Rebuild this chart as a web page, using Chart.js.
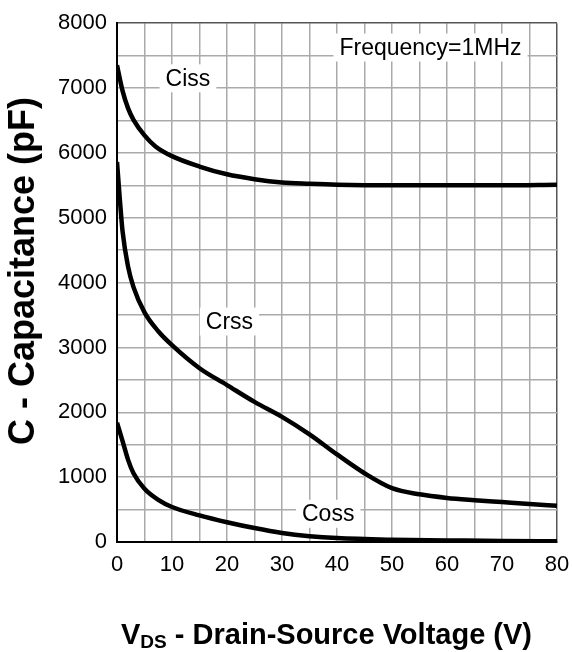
<!DOCTYPE html>
<html>
<head>
<meta charset="utf-8">
<script src="https://cdn.jsdelivr.net/npm/chart.js@4"></script>
<style>
  body { margin: 0; background: #fff; }
  #wrap { position: relative; width: 572px; height: 652px; }
  #xtitle {
    position: absolute; left: 121px; top: 620px;
    font: bold 29px "Liberation Sans", Arial, sans-serif; line-height: 1;
    color: #000; white-space: nowrap;
  }
  #xtitle span { font-size: 19px; vertical-align: -4px; }
  #ytitle {
    position: absolute; left: 22px; top: 271px;
    transform: translate(-50%, -50%) rotate(-90deg);
    font: bold 36px "Liberation Sans", Arial, sans-serif; line-height: 1;
    color: #000; white-space: nowrap;
  }
</style>
</head>
<body>
<div id="wrap">
  <canvas id="cap-chart"></canvas>
  <div id="ytitle">C - Capacitance (pF)</div>
  <div id="xtitle">V<span>DS</span> - Drain-Source Voltage (V)</div>
</div>
<script>
// values (V, pF)
const vCiss = [0, 1, 2, 3, 5, 7, 10, 15, 20, 25, 30, 35, 40, 50, 60, 70, 80];
const ciss  = [7350, 6960, 6690, 6510, 6270, 6100, 5950, 5790, 5670, 5595, 5545, 5525, 5510, 5500, 5500, 5500, 5510];

const vCrss = [0, 0.5, 1, 2, 3, 5, 7.5, 10, 15, 20, 25, 30, 35, 40, 45, 50, 55, 60, 65, 70, 75, 80];
const crss  = [5860, 5300, 4800, 4250, 3930, 3540, 3250, 3035, 2680, 2420, 2160, 1930, 1660, 1350, 1060, 830, 735, 680, 645, 615, 585, 560];

const vCoss = [0, 1, 2, 3, 5, 7.5, 10, 15, 20, 25, 30, 35, 40, 50, 60, 70, 80];
const coss  = [1840, 1560, 1270, 1060, 820, 650, 540, 410, 305, 215, 140, 90, 60, 35, 25, 15, 10];

// text labels inside the plot: [text, V, pF]
const notes = [
  ['Ciss', 12.9, 7150],
  ['Crss', 20.45, 3400],
  ['Coss', 38.4, 435],
  ['Frequency=1MHz', 57, 7625]
];

const FONT = '"Liberation Sans", Arial, sans-serif';

function pts(xs, ys) {
  return xs.map((x, i) => ({ x: x, y: ys[i] }));
}

const curve = (label, data) => ({
  label: label,
  data: data,
  borderColor: '#000',
  borderWidth: 4.5,
  pointRadius: 0,
  fill: false,
  cubicInterpolationMode: 'monotone'
});

// white-backed labels over the grid
const notesPlugin = {
  id: 'notes',
  beforeDatasetsDraw(chart) {
    const ctx = chart.ctx;
    const xs = chart.scales.x, ys = chart.scales.y;
    ctx.save();
    ctx.font = '23px ' + FONT;
    ctx.textAlign = 'center';
    ctx.textBaseline = 'middle';
    notes.forEach(n => {
      const px = xs.getPixelForValue(n[1]);
      const py = ys.getPixelForValue(n[2]);
      const w = ctx.measureText(n[0]).width;
      ctx.fillStyle = '#fff';
      ctx.fillRect(px - w / 2 - 6, py - 14, w + 12, 28);
      ctx.fillStyle = '#000';
      ctx.fillText(n[0], px, py + 1);
    });
    ctx.restore();
  }
};

// the outer edge of the grid is darker
const gridColor = (max) => (c) => (c.tick && c.tick.value === max ? '#555' : '#aaa');

const ctx = document.getElementById('cap-chart').getContext('2d');
const capChart = new Chart(ctx, {
  type: 'line',
  data: {
    datasets: [
      curve('Ciss', pts(vCiss, ciss)),
      curve('Crss', pts(vCrss, crss)),
      curve('Coss', pts(vCoss, coss))
    ]
  },
  options: {
    responsive: true,
    maintainAspectRatio: false,
    animation: false,
    layout: { padding: { left: 0, right: 15, top: 19, bottom: 0 } },
    plugins: {
      legend: { display: false },
      tooltip: { enabled: false }
    },
    scales: {
      x: {
        type: 'linear',
        min: 0, max: 80,
        afterFit: s => { s.height = 110; s.paddingLeft = 0; s.paddingRight = 0; },
        grid: { color: gridColor(80), lineWidth: 1.5, drawTicks: false },
        border: { color: '#000', width: 2 },
        ticks: {
          stepSize: 5,
          padding: 10,
          color: '#000',
          font: { family: FONT, size: 22 },
          maxRotation: 0,
          autoSkip: false,
          callback: v => (v % 10 === 0 ? v : '')
        }
      },
      y: {
        min: 0, max: 8000,
        afterFit: s => { s.width = 117; },
        grid: { color: gridColor(8000), lineWidth: 1.5, drawTicks: false },
        border: { color: '#000', width: 2 },
        ticks: {
          stepSize: 500,
          padding: 10,
          color: '#000',
          font: { family: FONT, size: 22 },
          autoSkip: false,
          callback: v => (v % 1000 === 0 ? v : '')
        }
      }
    }
  },
  plugins: [notesPlugin]
});
</script>
</body>
</html>
